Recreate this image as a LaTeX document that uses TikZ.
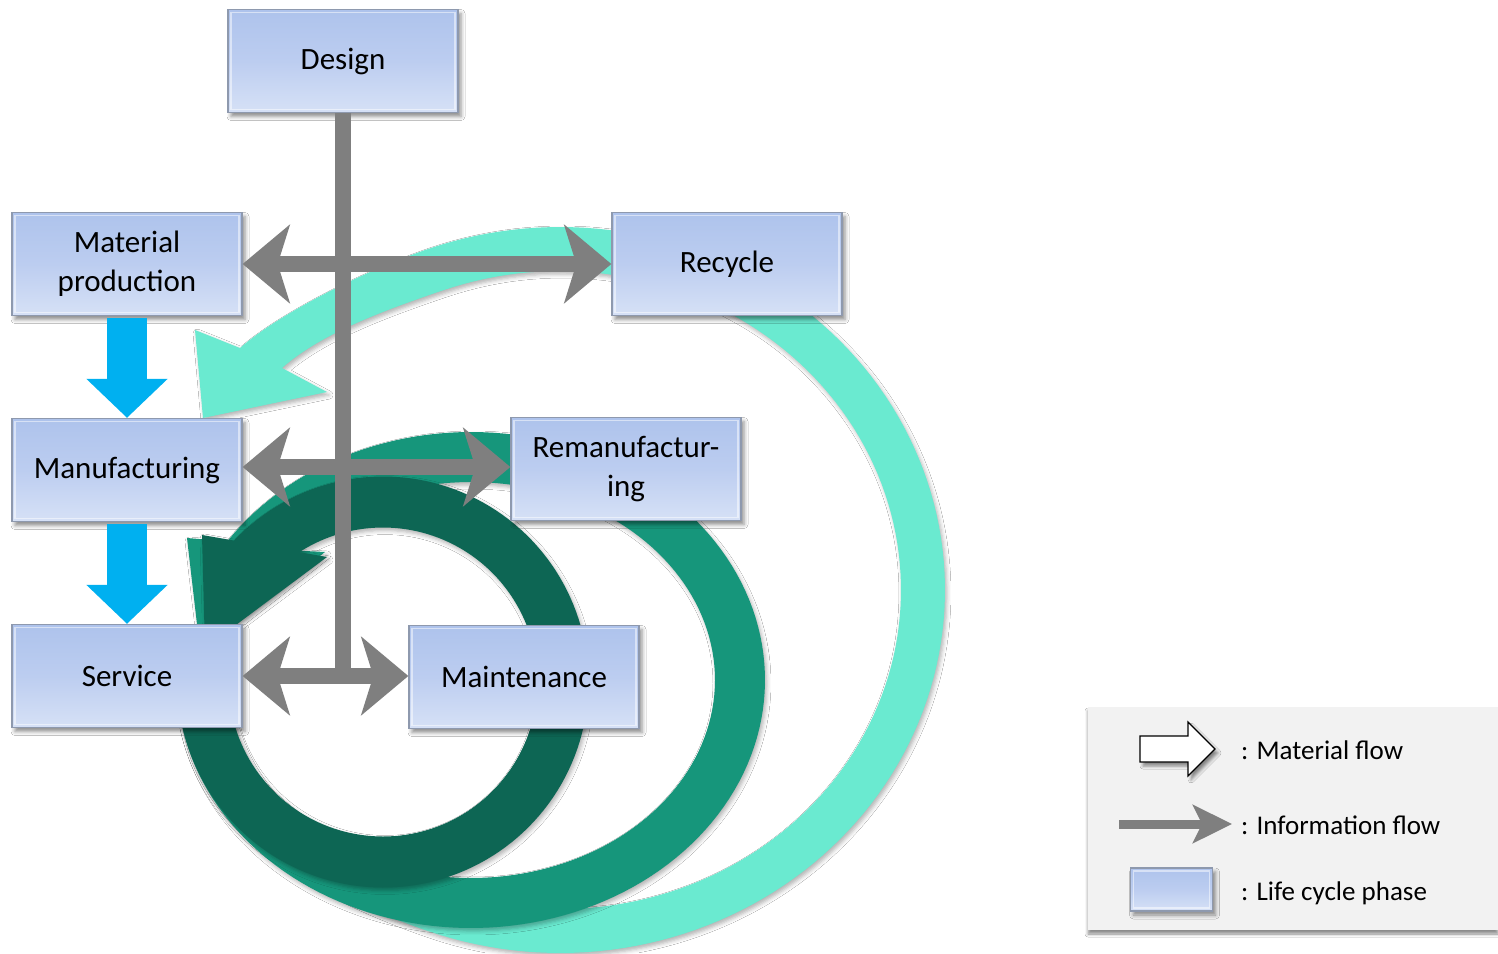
\documentclass[tikz,border=0pt]{standalone}
\usepackage{fontspec}
\setmainfont{Carlito}
\usetikzlibrary{arrows.meta,shadows.blur,calc}
\definecolor{mintc}{HTML}{6AEAD0}
\definecolor{medc}{HTML}{16967B}
\definecolor{darkc}{HTML}{0D6654}
\definecolor{infoc}{HTML}{7F7F7F}
\definecolor{matc}{HTML}{00B0F0}
\definecolor{boxtop}{HTML}{AEC3EC}
\definecolor{boxmid}{HTML}{BCCDF0}
\definecolor{boxbot}{HTML}{D6E1F6}
\definecolor{boxline}{HTML}{8E99AE}
\definecolor{legbg}{HTML}{F2F2F2}
\tikzset{
  phase/.style={rectangle, draw=boxline, line width=1.3pt,
    top color=boxtop, bottom color=boxbot, middle color=boxmid,
    minimum width=230pt, minimum height=103pt, inner sep=0pt, align=center,
    font=\fontsize{31}{39}\selectfont,
    blur shadow={shadow xshift=3pt, shadow yshift=-4pt, shadow blur radius=4pt, shadow opacity=45},
    path picture={\draw[white, opacity=0.5, line width=1.2pt]
      ($(path picture bounding box.north west)+(3pt,-3pt)$) rectangle
      ($(path picture bounding box.south east)+(-3pt,3pt)$);}},
  infoarrow/.style={draw=infoc, line width=16pt,
    {Stealth[length=47pt,width=78pt,inset=12pt]}-{Stealth[length=47pt,width=78pt,inset=12pt]}},
  infobar/.style={draw=infoc, line width=16pt},
  matarrow/.style={draw=matc, line width=40pt, -{Triangle[length=39pt,width=79pt]}},
  bandshadow/.style={blur shadow={shadow xshift=2pt, shadow yshift=-3pt, shadow blur radius=4pt, shadow opacity=30}},
  legtext/.style={anchor=base west, inner sep=0pt, font=\fontsize{27}{32}\selectfont},
}
\begin{document}
\begin{tikzpicture}[x=1pt,y=-1pt]
\useasboundingbox (0,0) rectangle (1498,953);
\fill[white] (0,0) rectangle (1498,953);

% circular material flows (drawn first, behind the phases)
\fill[mintc, bandshadow] (183,700) .. controls (183,830) and (333.7,898.6) .. (428.3,931.1)
  -- plot[domain=110:-110, samples=120, variable=\t] ({560+385*cos(\t)},{590+363*sin(\t)})
  .. controls (362,271.6) and (277,315) .. (240,348)
  -- (195,330) -- (203,418) -- (327,392) -- (282,368)
  .. controls (319.5,335) and (377,312.7) .. (443.4,290.2)
  -- plot[domain=-110:110, samples=120, variable=\t] ({560+341*cos(\t)},{590+319*sin(\t)})
  .. controls (363.4,862.3) and (222,790) .. (222,700) -- cycle;
\fill[medc, bandshadow] plot[domain=175:-146, samples=150, variable=\t] ({471+294*cos(\t)},{680+248*sin(\t)})
  -- (187,538) -- (200,650) -- (325,552)
  -- plot[domain=-139:175, samples=150, variable=\t] ({471+244*cos(\t)},{680+198*sin(\t)}) -- cycle;
\fill[darkc, bandshadow] plot[domain=185:-136.5, samples=150, variable=\t] ({383+205.5*cos(\t)},{682+205.5*sin(\t)})
  -- (202,535) -- (205,648) -- (327,557)
  -- plot[domain=-122.8:185, samples=150, variable=\t] ({383+154.5*cos(\t)},{682+154.5*sin(\t)}) -- cycle;

% life cycle phases
\node[phase] (design)  at (343,61)  {Design};
\node[phase] (matprod) at (127,264) {Material\\production};
\node[phase] (manuf)   at (127,470) {Manufacturing};
\node[phase] (service) at (127,676) {Service};
\node[phase] (recycle) at (727,264) {Recycle};
\node[phase] (reman)   at (626,469) {Remanufactur-\\ing};
\node[phase] (maint)   at (524,677) {Maintenance};

% information flows
\draw[infobar] (design.south) -- ($(design.south |- service.east)+(0,8)$);
\draw[infoarrow] (matprod.east) -- (recycle.west);
\draw[infoarrow] ($(manuf.east)+(0,-3)$) -- ($(manuf.east -| reman.west)+(0,-3)$);
\draw[infoarrow] (service.east) -- (service.east -| maint.west);

% material flows
\draw[matarrow] ($(matprod.south)+(0,2)$) -- (manuf.north);
\draw[matarrow] ($(manuf.south)+(0,2)$) -- (service.north);

% legend
\node[rectangle, fill=legbg, minimum width=410pt, minimum height=223pt, inner sep=0pt,
  blur shadow={shadow xshift=0pt, shadow yshift=-4pt, shadow blur radius=3pt, shadow opacity=45}]
  (legend) at (1293,818.5) {};
\draw[black, line width=1.2pt, fill=white,
  blur shadow={shadow xshift=3pt, shadow yshift=-4pt, shadow blur radius=3pt, shadow opacity=45}]
  (1140,736) -- (1188,736) -- (1188,722) -- (1215,749) -- (1188,776) -- (1188,762) -- (1140,762) -- cycle;
\coordinate (ia) at (1119,824);
\coordinate (ib) at (1232,824);
\draw[draw=infoc, line width=9pt, -{Stealth[length=39pt,width=38pt,inset=9pt]}] (ia) -- (ib);
\node[phase, minimum width=82pt, minimum height=43pt] (lbox) at (1171.5,889.5) {};
\node[legtext] (lt1) at (1241,759) {: Material flow};
\node[legtext] (lt2) at (1241,834) {: Information flow};
\node[legtext] (lt3) at (1241,900) {: Life cycle phase};
\end{tikzpicture}
\end{document}
